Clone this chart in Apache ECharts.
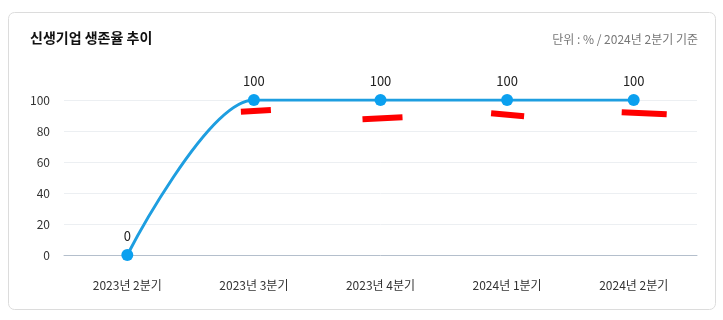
<!DOCTYPE html>
<html><head><meta charset="utf-8">
<script src="https://cdn.jsdelivr.net/npm/echarts@6/dist/echarts.min.js"></script>
<style>html,body{margin:0;padding:0;background:#fff}#c{width:723px;height:320px}</style>
</head><body><div id="c"></div>
<script>
const categories = ['2023년 2분기','2023년 3분기','2023년 4분기','2024년 1분기','2024년 2분기'];
const survivalRate = [0, 100, 100, 100, 100];
const yTicks = [0, 20, 40, 60, 80, 100];
const titleText = '신생기업 생존율 추이';
const subtitleText = '단위 : % / 2024년 2분기 기준';
// red strike annotations attached to category points (index, value)
const strikeAnchors = [[1,100],[2,100],[3,100],[4,100]];
const strikeOffsets = [[-13,11.7,17,10],[-18,19.3,22,17.3],[-16,13.3,17,16.3],[-12,12.3,33,14.3]];

const font = '"Noto Sans CJK KR", "Noto Sans", sans-serif';
const chart = echarts.init(document.getElementById('c'));
chart.setOption({
  animation: false,
  textStyle: {fontFamily: font},
  graphic: [
    {type:'rect', shape:{x:8.5,y:12.5,width:707,height:297,r:6}, style:{fill:'#fff', stroke:'#dcdcdc', lineWidth:1}, z:-10},
    {type:'text', left:30, top:31, style:{text:titleText, fontSize:14, fontWeight:'bold', fill:'#111', fontFamily:font}},
    {type:'text', right:25, top:33, style:{text:subtitleText, fontSize:12, fill:'#777', fontFamily:font}}
  ],
  grid: {left:64, right:26, top:100, bottom:65},
  xAxis: {
    type:'category', data:categories, boundaryGap:true,
    axisLine:{lineStyle:{color:'#b4bfcc'}}, axisTick:{show:false},
    axisLabel:{color:'#333', fontSize:12, margin:24}
  },
  yAxis: {
    type:'value', min:yTicks[0], max:yTicks[yTicks.length-1], interval:yTicks[1]-yTicks[0],
    axisLine:{show:false}, axisTick:{show:false},
    axisLabel:{color:'#333', fontSize:12, margin:14},
    splitLine:{lineStyle:{color:'#eceff2'}}
  },
  series: [
    {
      type:'line', data:survivalRate, smooth:0.3,
      symbol:'circle', symbolSize:12,
      lineStyle:{color:'#1e9ee0', width:3},
      itemStyle:{color:'#0ba0ef'},
      label:{show:true, position:'top', distance:6, color:'#222', fontSize:13}
    },
    {
      type:'custom', data:strikeAnchors, z:5, silent:true,
      renderItem: function(params, api){
        const p = api.coord([api.value(0), api.value(1)]);
        const o = strikeOffsets[params.dataIndex];
        return {type:'polyline', shape:{points:[[p[0]+o[0],p[1]+o[1]],[p[0]+o[2],p[1]+o[3]]]},
          style:{stroke:'#ff0000', lineWidth:6, fill:null}};
      }
    }
  ]
});
</script></body></html>
